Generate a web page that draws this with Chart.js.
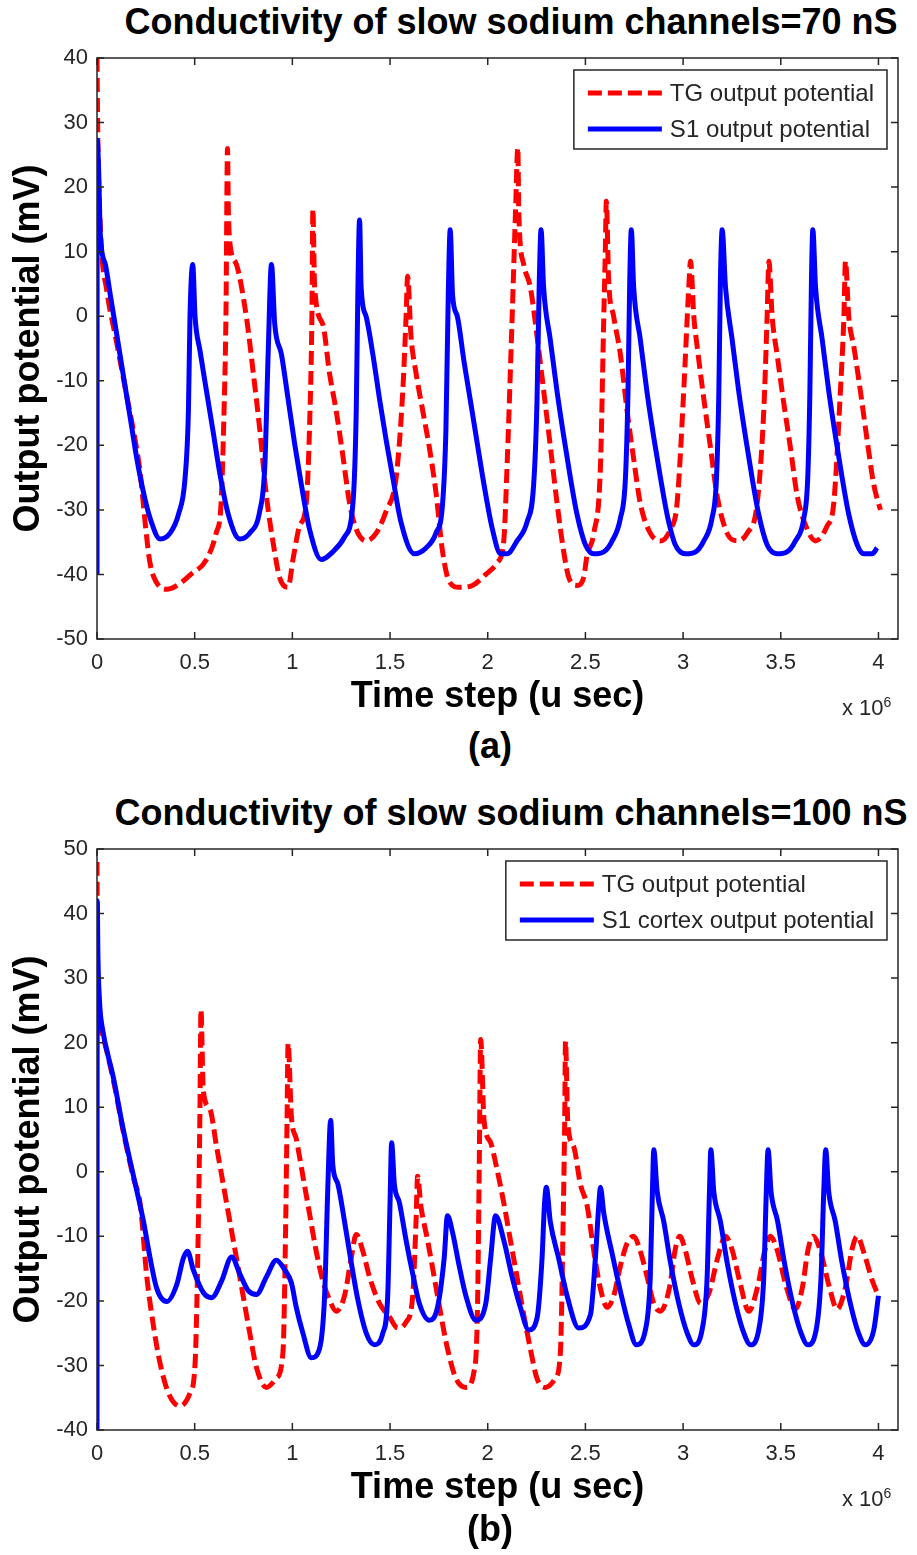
<!DOCTYPE html>
<html>
<head>
<meta charset="utf-8">
<script src="https://cdn.jsdelivr.net/npm/chart.js@4.4.1/dist/chart.umd.min.js"></script>
<style>
  body { margin:0; background:#fff; width:917px; height:1555px; position:relative; overflow:hidden;
         font-family:"Liberation Sans", Arial, sans-serif; }
  .wrap { position:absolute; left:0; width:917px; height:719px; }
  .title { position:absolute; left:511px; transform:translateX(-50%); font-weight:bold; font-size:36px;
           line-height:36px; white-space:nowrap; color:#000; }
  .cap { position:absolute; left:490px; transform:translateX(-50%); font-weight:bold; font-size:36px;
         line-height:36px; color:#000; }
  .mult { position:absolute; left:842px; font-size:22px; line-height:22px; color:#262626; white-space:nowrap; }
  .mult sup { font-size:14px; }
</style>
</head>
<body>
<div class="title" style="top:4px">Conductivity of slow sodium channels=70 nS</div>
<div class="wrap" style="top:0"><canvas id="chartA"></canvas></div>
<div class="mult" style="top:691px">x 10<sup>6</sup></div>
<div class="cap" style="top:728px">(a)</div>

<div class="title" style="top:795px">Conductivity of slow sodium channels=100 nS</div>
<div class="wrap" style="top:791px"><canvas id="chartB"></canvas></div>
<div class="mult" style="top:1482px">x 10<sup>6</sup></div>
<div class="cap" style="top:1511px">(b)</div>

<script>
// time axis is in units of 10^6 u sec
const xTicks = [0, 0.5, 1, 1.5, 2, 2.5, 3, 3.5, 4];

// (a) 70 nS
const tgTimeA = [0, 0.004, 0.02, 0.05, 0.1, 0.15, 0.2, 0.22, 0.25, 0.27,
  0.3, 0.357, 0.42, 0.48, 0.56, 0.61, 0.635, 0.65, 0.66, 0.668,
  0.672, 0.68, 0.714, 0.765, 0.8, 0.833, 0.867, 0.9, 0.935, 0.978,
  1.003, 1.037, 1.071, 1.09, 1.1, 1.105, 1.114, 1.156, 1.19, 1.224,
  1.258, 1.293, 1.327, 1.378, 1.429, 1.48, 1.531, 1.565, 1.582, 1.59,
  1.607, 1.633, 1.667, 1.701, 1.735, 1.769, 1.803, 1.854, 1.922, 1.99,
  2.048, 2.082, 2.099, 2.125, 2.142, 2.154, 2.159, 2.184, 2.218, 2.252,
  2.287, 2.321, 2.355, 2.389, 2.415, 2.457, 2.491, 2.508, 2.543, 2.577,
  2.594, 2.602, 2.607, 2.619, 2.645, 2.679, 2.713, 2.747, 2.781, 2.832,
  2.884, 2.935, 2.969, 3.003, 3.029, 3.038, 3.055, 3.072, 3.106, 3.14,
  3.174, 3.225, 3.276, 3.328, 3.379, 3.413, 3.43, 3.439, 3.456, 3.481,
  3.515, 3.549, 3.584, 3.635, 3.678, 3.737, 3.771, 3.805, 3.823, 3.831,
  3.848, 3.874, 3.908, 3.942, 3.976, 4.01];
const tgA = [40, 28, 12, 4, -4, -12, -20, -24, -33, -38,
  -41, -42.3, -41.5, -40, -37.7, -33.6, -29, -15, 0, 26,
  17, 11.4, 8, -0.2, -8.8, -17.5, -27.8, -34.8, -40.5, -42,
  -37.7, -32.5, -29, -15, 0, 16.6, 4.5, -1.3, -8.8, -14.6,
  -21.5, -29, -33, -34.8, -33.6, -30.2, -25, -11.7, -0.1, 6.2,
  -3, -8.8, -14.6, -20.3, -27.3, -36.5, -41.1, -42, -41.7, -40,
  -38.2, -34.8, -23.2, -0.1, 16, 26.1, 16, 8, 4.5, -3,
  -11.7, -20.3, -29, -36.5, -40.5, -41.7, -40.5, -37.1, -33.6, -23.2,
  -0.1, 10.3, 17.8, 5.6, -0.1, -5.9, -14.6, -22.1, -29, -33.6,
  -34.8, -33, -29, -11.7, 4.5, 8.5, -0.1, -4.7, -12.8, -20.3,
  -27.8, -33.6, -34.8, -33.6, -29, -14.6, -0.1, 8.5, -0.1, -5.9,
  -13.4, -20.3, -27.8, -33, -34.8, -32.5, -29, -11.7, -0.1, 8.5,
  -0.1, -4.7, -11.7, -19.2, -26.1, -30];

const s1TimeA = [0, 0.001, 0.008, 0.017, 0.043, 0.068, 0.102, 0.136, 0.17, 0.204,
  0.238, 0.272, 0.323, 0.374, 0.417, 0.451, 0.468, 0.476, 0.49, 0.502,
  0.527, 0.561, 0.595, 0.629, 0.672, 0.731, 0.782, 0.833, 0.859, 0.876,
  0.893, 0.91, 0.944, 0.978, 1.012, 1.046, 1.088, 1.148, 1.207, 1.267,
  1.31, 1.327, 1.335, 1.344, 1.352, 1.378, 1.412, 1.446, 1.48, 1.514,
  1.556, 1.624, 1.684, 1.735, 1.769, 1.786, 1.798, 1.808, 1.82, 1.845,
  1.879, 1.913, 1.947, 1.981, 2.024, 2.066, 2.099, 2.15, 2.201, 2.235,
  2.252, 2.264, 2.273, 2.286, 2.32, 2.355, 2.389, 2.423, 2.457, 2.5,
  2.543, 2.594, 2.637, 2.679, 2.705, 2.718, 2.727, 2.735, 2.747, 2.781,
  2.815, 2.849, 2.884, 2.918, 2.96, 3.013, 3.064, 3.106, 3.148, 3.171,
  3.183, 3.191, 3.2, 3.217, 3.251, 3.285, 3.319, 3.353, 3.387, 3.43,
  3.481, 3.532, 3.575, 3.618, 3.638, 3.649, 3.657, 3.664, 3.678, 3.712,
  3.746, 3.78, 3.814, 3.848, 3.891, 3.925, 3.968, 3.993];
const s1A = [-40, 27.3, 23, 12.6, 8, 3.3, -3, -9.4, -15.7, -22.1,
  -27.3, -31.3, -34.5, -33.6, -30.7, -25, -14.6, -0.1, 8, -0.1,
  -5.3, -11.7, -18, -24.4, -30.7, -34.5, -33.6, -30.2, -23.2, -5.9,
  8, -1.3, -5.9, -12.8, -19.8, -26.1, -33, -37.7, -36.5, -34.2,
  -29, -14.6, 3.3, 14.9, 4.5, -0.1, -5.9, -12.8, -19.2, -25,
  -31.9, -36.8, -35.9, -33.6, -29, -17.5, 3.3, 13.4, 3.3, -0.1,
  -7.1, -13.4, -19.8, -26.1, -33, -36.8, -36.8, -34.8, -31.9, -26.1,
  -13.4, 5.6, 13.4, 4.5, -3.6, -11.7, -18.6, -25, -30.7, -35.4,
  -36.8, -36.5, -34.8, -31.3, -25, -11.7, 5.6, 13.4, 4.5, -3.6,
  -11.7, -18.6, -25, -30.7, -35.4, -36.8, -36.5, -34.8, -31.3, -25,
  -11.7, 5.6, 13.4, 4.5, -3.6, -11.7, -18.6, -25, -30.7, -35.4,
  -36.8, -36.5, -34.8, -31.3, -25, -11.7, 5.6, 13.4, 4.5, -3.6,
  -11.7, -18.6, -25, -30.7, -35.4, -36.8, -36.8, -35.9];

// (b) 100 nS
const tgTimeB = [0, 0.003, 0.017, 0.085, 0.136, 0.187, 0.221, 0.255, 0.289, 0.323,
  0.366, 0.425, 0.476, 0.502, 0.519, 0.527, 0.532, 0.544, 0.578, 0.612,
  0.646, 0.68, 0.714, 0.748, 0.782, 0.816, 0.867, 0.918, 0.952, 0.966,
  0.973, 0.978, 0.995, 1.02, 1.054, 1.088, 1.122, 1.156, 1.19, 1.224,
  1.267, 1.301, 1.327, 1.361, 1.395, 1.446, 1.497, 1.54, 1.582, 1.616,
  1.633, 1.641, 1.658, 1.692, 1.726, 1.76, 1.794, 1.837, 1.888, 1.93,
  1.947, 1.956, 1.964, 1.981, 2.015, 2.05, 2.082, 2.116, 2.15, 2.184,
  2.218, 2.252, 2.295, 2.346, 2.372, 2.386, 2.394, 2.398, 2.41, 2.44,
  2.474, 2.509, 2.543, 2.577, 2.611, 2.645, 2.679, 2.713, 2.747, 2.781,
  2.816, 2.85, 2.884, 2.93, 2.96, 2.983, 3.01, 3.05, 3.089, 3.13,
  3.18, 3.217, 3.25, 3.29, 3.336, 3.38, 3.42, 3.447, 3.48, 3.53,
  3.575, 3.61, 3.64, 3.665, 3.7, 3.75, 3.788, 3.83, 3.865, 3.891,
  3.93, 3.97, 4.0];
const tgB = [48, 27, 22, 14, 6, -1, -5, -16.3, -23.9, -29.7,
  -34.3, -36.3, -34.3, -29.7, -7.7, 9.7, 25.1, 12.6, 9.7, 3.9,
  -1.9, -7.7, -13.4, -19.2, -25, -30.3, -33.4, -32, -27.9, -7.7,
  8.6, 19.9, 8.6, 5.1, -0.7, -6.5, -12.3, -16.9, -19.8, -21.6,
  -19.2, -13.4, -9.7, -12.3, -16.3, -20.4, -22.5, -24.2, -23.3, -19.2,
  -7.7, -0.7, -5.3, -10.6, -16.3, -22.1, -27.4, -32, -33.4, -30.9,
  -22, -1, 20.5, 8, 4.5, 0, -4.8, -10.6, -16.3, -22.1,
  -27.4, -32, -33.4, -32, -27.9, -7.7, 8, 20.2, 7.4, 3.9,
  -1.9, -5.3, -12.3, -18.1, -21, -19.2, -14.6, -11.1, -10, -12.3,
  -16.3, -20.4, -21.6, -18, -12, -10, -12, -17, -20.4, -19,
  -13, -10, -12, -17, -21.6, -18, -12, -10, -12, -18,
  -21.3, -18, -12, -10, -12, -18, -21.3, -18, -12, -10,
  -13, -17, -19.2];

const s1TimeB = [0, 0.001, 0.005, 0.015, 0.026, 0.085, 0.136, 0.187, 0.238, 0.272,
  0.306, 0.357, 0.408, 0.442, 0.463, 0.493, 0.544, 0.587, 0.638, 0.689,
  0.731, 0.774, 0.816, 0.867, 0.918, 0.961, 0.995, 1.02, 1.054, 1.097,
  1.139, 1.165, 1.182, 1.196, 1.207, 1.233, 1.267, 1.301, 1.335, 1.378,
  1.42, 1.463, 1.488, 1.5, 1.508, 1.522, 1.548, 1.582, 1.616, 1.65,
  1.701, 1.743, 1.777, 1.794, 1.82, 1.854, 1.888, 1.939, 1.99, 2.015,
  2.04, 2.082, 2.125, 2.167, 2.21, 2.252, 2.278, 2.29, 2.3, 2.32,
  2.363, 2.406, 2.466, 2.526, 2.551, 2.568, 2.577, 2.594, 2.637, 2.679,
  2.722, 2.761, 2.807, 2.832, 2.843, 2.85, 2.867, 2.901, 2.935, 2.978,
  3.021, 3.055, 3.097, 3.123, 3.135, 3.142, 3.157, 3.191, 3.225, 3.268,
  3.311, 3.345, 3.387, 3.413, 3.426, 3.435, 3.45, 3.484, 3.518, 3.561,
  3.604, 3.638, 3.681, 3.706, 3.72, 3.73, 3.745, 3.779, 3.813, 3.856,
  3.898, 3.933, 3.976, 4.0];
const s1B = [-40, 42, 33, 25.4, 22.5, 14.4, 6.3, -0.7, -7.7, -13.4,
  -18.1, -20.1, -17.5, -13.4, -12.3, -15.2, -18.7, -19.5, -16.9, -13.2,
  -15.8, -18.4, -19, -16.3, -13.7, -15.2, -17.2, -21, -25, -28.8,
  -27.4, -19.2, -1.9, 8, 1, -1.9, -7.7, -14, -19.8, -25,
  -26.8, -25, -19.2, -4.8, 4.5, -1.9, -4.8, -10.6, -15.8, -20.4,
  -23, -21, -13.4, -6.8, -9.4, -14.6, -19.2, -23, -20.4, -13.4,
  -6.8, -10.6, -16.3, -21, -24.5, -22.7, -13.4, -5.3, -2.4, -7.7,
  -13.4, -19.2, -24.2, -22.1, -13.4, -5.3, -2.4, -6.4, -12.7, -18.5,
  -23.7, -26.8, -24.5, -16.3, -3, 3.4, -3, -7.7, -14, -20.4,
  -25, -26.8, -24.5, -16.3, -3, 3.4, -3, -7.7, -14, -20.4,
  -25, -26.8, -24.5, -16.3, -3, 3.4, -3, -7.7, -14, -20.4,
  -25, -26.8, -24.5, -16.3, -3, 3.4, -3, -7.7, -14, -20.4,
  -25, -26.8, -24.5, -19.2];

Chart.defaults.font.family = '"Liberation Sans", Arial, sans-serif';

function pts(ts, vs) {
  return ts.map((t, i) => ({ x: t, y: vs[i] }));
}

// box round the plot with inward tick marks, matlab style
const frame = {
  id: 'frame',
  afterDatasetsDraw(chart) {
    const { ctx, chartArea: a, scales: { x, y } } = chart;
    ctx.save();
    ctx.strokeStyle = '#262626';
    ctx.lineWidth = 1.5;
    ctx.setLineDash([]);
    ctx.strokeRect(a.left, a.top, a.right - a.left, a.bottom - a.top);
    ctx.beginPath();
    x.ticks.forEach(t => {
      const px = x.getPixelForValue(t.value);
      ctx.moveTo(px, a.bottom); ctx.lineTo(px, a.bottom - 7);
      ctx.moveTo(px, a.top); ctx.lineTo(px, a.top + 7);
    });
    y.ticks.forEach(t => {
      const py = y.getPixelForValue(t.value);
      ctx.moveTo(a.left, py); ctx.lineTo(a.left + 7, py);
      ctx.moveTo(a.right, py); ctx.lineTo(a.right - 7, py);
    });
    ctx.stroke();
    ctx.restore();
  }
};

// legend box in the top right corner of the plot
const legendBox = {
  id: 'legendBox',
  afterDraw(chart) {
    const { ctx, chartArea: a } = chart;
    const ds = chart.data.datasets;
    ctx.save();
    ctx.font = '24px "Liberation Sans", Arial, sans-serif';
    const tw = Math.max(...ds.map(d => ctx.measureText(d.label).width));
    const w = 14 + 74 + 8 + tw + 13, h = 79;
    const bx = a.right - 11 - w, by = a.top + 12;
    ctx.fillStyle = '#fff';
    ctx.fillRect(bx, by, w, h);
    ctx.strokeStyle = '#262626';
    ctx.lineWidth = 1.5;
    ctx.strokeRect(bx, by, w, h);
    ds.forEach((d, i) => {
      const cy = by + 23 + i * 36;
      ctx.setLineDash(d.borderDash || []);
      ctx.strokeStyle = d.borderColor;
      ctx.lineWidth = d.borderWidth;
      ctx.beginPath();
      ctx.moveTo(bx + 14, cy);
      ctx.lineTo(bx + 88, cy);
      ctx.stroke();
      ctx.setLineDash([]);
      ctx.fillStyle = '#262626';
      ctx.textBaseline = 'middle';
      ctx.fillText(d.label, bx + 96, cy + 1);
    });
    ctx.restore();
  }
};

function makeChart(id, tgData, s1Data, s1Label, yMin, yMax) {
  return new Chart(document.getElementById(id), {
    type: 'line',
    data: {
      datasets: [
        {
          label: 'TG output potential',
          data: tgData,
          borderColor: '#ff0000',
          borderWidth: 5,
          borderDash: [14, 6],
          borderJoinStyle: 'round',
          cubicInterpolationMode: 'monotone',
          pointRadius: 0,
          order: 1
        },
        {
          label: s1Label,
          data: s1Data,
          borderColor: '#0000ff',
          borderWidth: 5,
          borderJoinStyle: 'round',
          cubicInterpolationMode: 'monotone',
          pointRadius: 0,
          order: 0
        }
      ]
    },
    options: {
      responsive: true,
      maintainAspectRatio: false,
      animation: false,
      layout: { padding: { top: 58, right: 19, left: 0, bottom: 0 } },
      plugins: { legend: { display: false }, tooltip: { enabled: false } },
      scales: {
        x: {
          type: 'linear',
          min: 0,
          max: 4.1,
          afterBuildTicks: s => { s.ticks = xTicks.map(v => ({ value: v })); },
          afterFit: s => { s.height = 80; },
          grid: { display: false, drawTicks: false },
          border: { display: false },
          ticks: { padding: 11, color: '#262626', font: { size: 22 }, maxRotation: 0, autoSkip: false,
                   callback: v => String(v) },
          title: { display: true, text: 'Time step (u sec)', color: '#000',
                   font: { size: 36, weight: 'bold' }, padding: { top: 0, bottom: 0 } }
        },
        y: {
          min: yMin,
          max: yMax,
          afterFit: s => { s.width = 97; },
          grid: { display: false, drawTicks: false },
          border: { display: false },
          ticks: { stepSize: 10, padding: 9, color: '#262626', font: { size: 22 } },
          title: { display: true, text: 'Output potential (mV)', color: '#000',
                   font: { size: 36, weight: 'bold' }, padding: { top: 7, bottom: 0 } }
        }
      }
    },
    plugins: [frame, legendBox]
  });
}

makeChart('chartA', pts(tgTimeA, tgA), pts(s1TimeA, s1A), 'S1 output potential', -50, 40);
makeChart('chartB', pts(tgTimeB, tgB), pts(s1TimeB, s1B), 'S1 cortex output potential', -40, 50);
</script>
</body>
</html>
